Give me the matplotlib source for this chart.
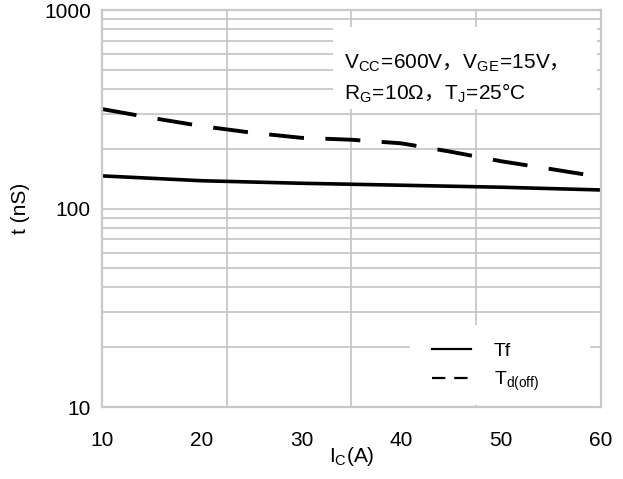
import matplotlib
matplotlib.use('Agg')
import matplotlib.pyplot as plt
from matplotlib.lines import Line2D
from matplotlib.patches import Rectangle
from matplotlib.ticker import FixedLocator, NullFormatter, LogLocator

plt.rcParams['font.family'] = ['Liberation Sans', 'DejaVu Sans']
plt.rcParams['mathtext.fontset'] = 'custom'
plt.rcParams['mathtext.rm'] = 'Liberation Sans'
plt.rcParams['mathtext.it'] = 'Liberation Sans'

# data
ic_tf = [10, 20, 30, 40, 50, 60]
tf = [146, 138, 134, 131, 128, 124]
ic_td = [10, 15, 20, 25, 30, 35, 40, 45, 50, 55, 60]
td_off = [317, 286, 260, 241, 227, 222, 213, 193, 173, 158, 144]

fig = plt.figure(figsize=(6.23, 4.79), dpi=100)
ax = fig.add_axes([0.1637, 0.1503, 0.801, 0.8288])

ax.plot(ic_tf, tf, color='black', lw=2.6, solid_capstyle='butt')
ax.plot(ic_td, td_off, color='black', lw=2.8, dashes=(9, 5.5))

ax.set_yscale('log')
ax.set_xlim(10, 60)
ax.set_ylim(10, 1000)

grid_col = '#c8c8c8'
ax.xaxis.set_major_locator(FixedLocator([10, 20, 30, 40, 50, 60]))
ax.xaxis.set_minor_locator(FixedLocator([22.5, 35, 47.5]))
ax.yaxis.set_major_locator(FixedLocator([10, 100, 1000]))
ax.yaxis.set_minor_locator(LogLocator(base=10, subs=range(2, 10)))
ax.yaxis.set_minor_formatter(NullFormatter())
ax.set_yticklabels(['10', '100', '1000'])
ax.tick_params(which='both', length=0, labelsize=15)
ax.tick_params(axis='y', pad=8)
ax.tick_params(axis='x', pad=17)
ax.grid(True, axis='x', which='minor', color=grid_col, lw=1.3)
ax.grid(True, axis='y', which='both', color=grid_col, lw=1.3)
for s in ax.spines.values():
    s.set_color(grid_col)
    s.set_linewidth(1.6)

ax.set_xlabel(r'I$_\mathrm{C}$(A)', fontsize=15, labelpad=-3)
ax.set_ylabel('t (nS)', fontsize=15, labelpad=10)

# condition box
ax.add_patch(Rectangle((0.462, 0.75), 0.992 - 0.462, 0.207, transform=ax.transAxes,
                       facecolor='white', edgecolor='none', zorder=2.5))
cond1 = r'$\mathrm{V_{CC}\!=\!600V}$，$\mathrm{V_{GE}\!=\!15V}$，'
cond2 = r'$\mathrm{R_{G}\!=\!10Ω}$，$\mathrm{T_{J}\!=\!25°C}$'
ax.text(0.484, 0.866, cond1, transform=ax.transAxes, fontsize=15, va='center',
        family=['Noto Sans CJK SC'], zorder=3)
ax.text(0.484, 0.791, cond2, transform=ax.transAxes, fontsize=15, va='center',
        family=['Noto Sans CJK SC'], zorder=3)

# legend on its own white patch
ax.add_patch(Rectangle((0.617, 0.005), 0.978 - 0.617, 0.202, transform=ax.transAxes,
                       facecolor='white', edgecolor='none', zorder=2.5))
handles = [Line2D([], [], color='black', lw=1.6),
           Line2D([], [], color='black', lw=1.6, dashes=(6, 4))]
leg = ax.legend(handles, ['Tf', r'T$_\mathrm{d(off)}$'], loc='lower left',
                bbox_to_anchor=(0.661, 0.035), frameon=False, fontsize=14,
                handlelength=2.0, handletextpad=1.2, borderpad=0,
                borderaxespad=0, labelspacing=0.5)
leg.set_zorder(3)

fig.savefig('out.png', dpi=100)
